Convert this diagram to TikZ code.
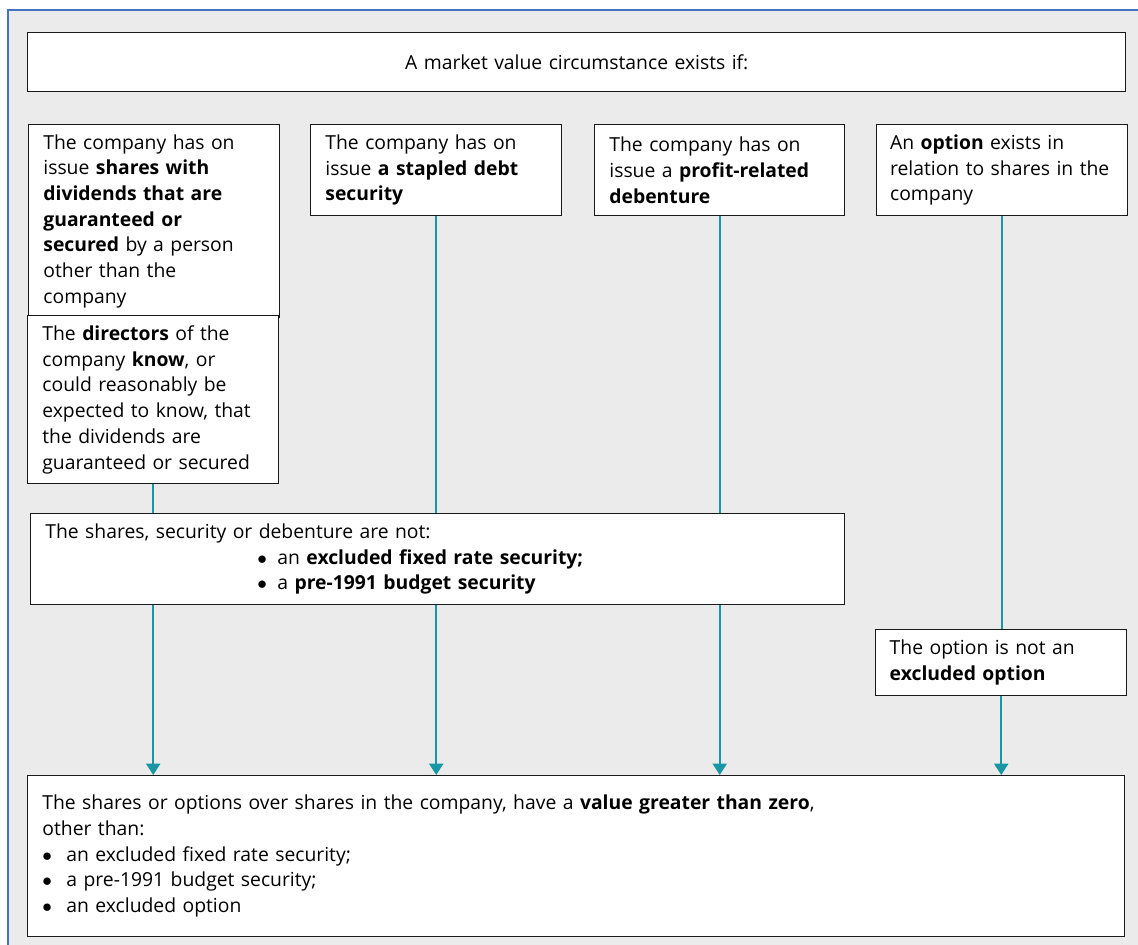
\documentclass[tikz,border=0pt]{standalone}
\usepackage{fontspec}
\setmainfont{Open Sans}
\usetikzlibrary{arrows.meta,calc,positioning}
\definecolor{bgGrey}{HTML}{EBEBEB}
\definecolor{frameBlue}{HTML}{4472C4}
\definecolor{flowTeal}{HTML}{1797A6}
\definecolor{boxLine}{HTML}{1A1A1A}
\newcommand{\bul}[1]{\makebox[#1][l]{$\bullet$}}

\begin{document}
\begin{tikzpicture}[x=0.75pt,y=-0.75pt,
    box/.style={draw=boxLine,fill=white,line width=1.1pt,anchor=north west,
                inner xsep=11pt,inner ysep=0pt,align=left,
                font=\fontsize{14.5}{19.3}\selectfont},
    flow/.style={draw=flowTeal,line width=1.5pt},
    >={Triangle[width=10.5pt,length=8.5pt]}]

    \useasboundingbox (0,0) rectangle (1138,945);
    \begin{scope}
    \clip (0,0) rectangle (1138,945);
    \draw[fill=bgGrey,draw=frameBlue,line width=1.5pt] (8,10) rectangle (1160,970);
    \end{scope}

    % title
    \node[box,align=center,text width=801.5pt,minimum height=44.25pt] (T) at (27,32)
        {A market value circumstance exists if:};

    % the four cases
    \node[box,text width=166.25pt,minimum height=144.75pt] (B1) at (28,124)
        {The company has on\\
         issue \textbf{shares with}\\
         \textbf{dividends that are}\\
         \textbf{guaranteed or}\\
         \textbf{secured} by a person\\
         other than the\\
         company};
    \node[box,text width=166.25pt,minimum height=68.25pt] (B2) at (310,124)
        {The company has on\\
         issue \textbf{a stapled debt}\\
         \textbf{security}};
    \node[box,text width=165.5pt,minimum height=68.25pt] (B3) at (594,124)
        {The company has on\\
         issue a \textbf{profit-related}\\
         \textbf{debenture}};
    \node[box,inner xsep=10pt,text width=168.25pt,minimum height=68.25pt] (B4) at (876,124)
        {An \textbf{option} exists in\\
         relation to shares in the\\
         company};

    \node[box,text width=166.25pt,minimum height=126pt] (D) at (27,315)
        {The \textbf{directors} of the\\
         company \textbf{know}, or\\
         could reasonably be\\
         expected to know, that\\
         the dividends are\\
         guaranteed or secured};

    % exclusions
    \node[box,text width=588.5pt,minimum height=68.25pt] (M) at (30,513)
        {The shares, security or debenture are not:\\
         \hspace*{159pt}\bul{15pt}an \textbf{excluded fixed rate security;}\\
         \hspace*{159pt}\bul{15pt}a \textbf{pre-1991 budget security}};
    \node[box,inner xsep=10.5pt,text width=167.25pt,minimum height=49.5pt] (O) at (875,629)
        {The option is not an\\
         \textbf{excluded option}};

    % result
    \node[box,text width=800.75pt,minimum height=120.75pt] (F) at (27,775)
        {The shares or options over shares in the company, have a \textbf{value greater than zero},\\
         other than:\\
         \bul{18pt}an excluded fixed rate security;\\
         \bul{18pt}a pre-1991 budget security;\\
         \bul{18pt}an excluded option};

    \draw[flow]    (D.south) -- (D.south |- M.north);
    \draw[flow,->] (D.south |- M.south) -- (D.south |- F.north);

    \draw[flow]    (B2.south) -- (B2.south |- M.north);
    \draw[flow,->] (B2.south |- M.south) -- (B2.south |- F.north);

    \draw[flow]    (B3.south) -- (B3.south |- M.north);
    \draw[flow,->] (B3.south |- M.south) -- (B3.south |- F.north);

    \draw[flow]    (B4.south) -- (B4.south |- O.north);
    \draw[flow,->] (O.south) -- (O.south |- F.north);

\end{tikzpicture}
\end{document}
